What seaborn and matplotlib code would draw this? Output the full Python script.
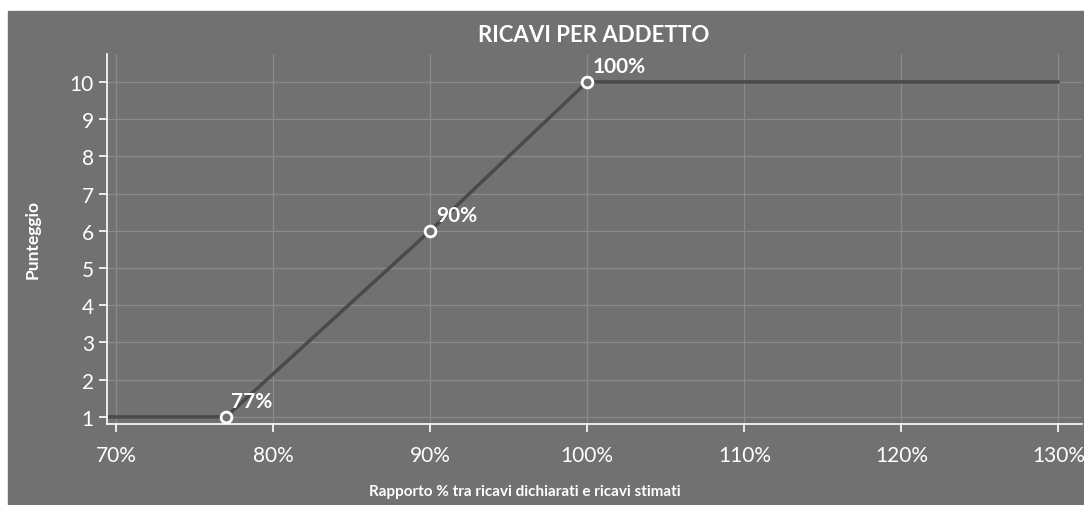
import seaborn as sns
import matplotlib.pyplot as plt
import matplotlib.patches as mpatches
import pandas as pd

# Curve: ratio between declared and estimated revenues -> score
ratio = [69, 77, 90, 100, 130]
score = [1, 1, 6, 10, 10]

# Highlighted break points
point_ratio = [77, 90, 100]
point_score = [1, 6, 10]
point_labels = ["77%", "90%", "100%"]

x_ticks = [70, 80, 90, 100, 110, 120, 130]
y_ticks = list(range(1, 11))

bg = "#717171"
grid_col = "#8a8a8a"
line_col = "#4a4a4a"

sns.set_style("white", rc={"axes.facecolor": bg, "figure.facecolor": "white"})
plt.rcParams["font.family"] = ["Lato", "DejaVu Sans"]

df = pd.DataFrame({"ratio": ratio, "score": score})
pts = pd.DataFrame({"ratio": point_ratio, "score": point_score})

fig = plt.figure(figsize=(10.84, 5.06), dpi=100)
fig.patches.append(mpatches.Rectangle((8 / 1084, 0), 1 - 8 / 1084, 494 / 506,
                                      transform=fig.transFigure, color=bg, zorder=-1))
ax = fig.add_axes([107 / 1084, 1 - 425 / 506, (1082 - 107) / 1084, (425 - 55) / 506])

sns.lineplot(data=df, x="ratio", y="score", ax=ax, color=line_col, lw=2.5, zorder=2)
sns.scatterplot(data=pts, x="ratio", y="score", ax=ax, s=60, color=bg,
                edgecolor="white", linewidth=2, zorder=3)

for xv, yv, lab in zip(point_ratio, point_score, point_labels):
    ax.annotate(lab, (xv, yv), xytext=(4, 4), textcoords="offset points",
                ha="left", va="bottom", color="white", fontsize=15, fontweight="bold")

ax.set_xlim(69.43, 131.5)
ax.set_ylim(0.81, 10.75)
ax.set_xticks(x_ticks)
ax.set_xticklabels([f"{t}%" for t in x_ticks])
ax.set_yticks(y_ticks)
ax.grid(True, color=grid_col, lw=0.9)
ax.set_axisbelow(True)

for side in ["top", "right"]:
    ax.spines[side].set_visible(False)
for side in ["left", "bottom"]:
    ax.spines[side].set_color("white")
    ax.spines[side].set_linewidth(1.2)

ax.tick_params(colors="white", labelcolor="white", labelsize=15, length=6, width=1.2,
               direction="out", bottom=True, left=True)
ax.tick_params(axis="x", pad=9)
ax.set_xlabel("")
ax.set_ylabel("")

fig.text(594 / 1084, 1 - 35 / 506, "RICAVI PER ADDETTO", ha="center", va="center",
         color="white", fontsize=16, fontweight="bold")
fig.text(525 / 1084, 1 - 492 / 506, "Rapporto % tra ricavi dichiarati e ricavi stimati",
         ha="center", va="center", color="white", fontsize=11, fontweight="bold")
fig.text(33 / 1084, 1 - 240 / 506, "Punteggio", ha="center", va="center", rotation=90,
         color="white", fontsize=12.5, fontweight="bold")

fig.savefig("out.png", dpi=100)
